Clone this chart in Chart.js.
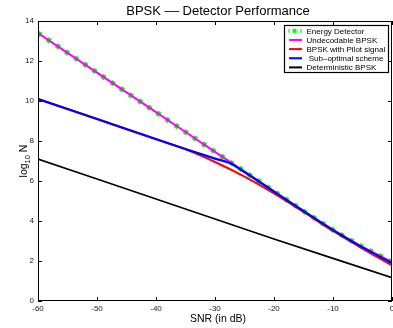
<!DOCTYPE html>
<html>
<head>
<meta charset="utf-8">
<script src="https://cdn.jsdelivr.net/npm/chart.js@4.4.1/dist/chart.umd.min.js"></script>
<style>
  html, body { margin: 0; padding: 0; background: #fff; }
  #wrap { width: 393px; height: 328px; position: relative; }
</style>
</head>
<body>
<div id="wrap"><canvas id="detChart"></canvas></div>
<script>
// Texts
const chartTitle = "BPSK –– Detector Performance";
const xTitle = "SNR (in dB)";
const yTitleMain = "log";
const yTitleSub = "10";
const yTitleTail = " N";

// Tick labels
const xTicks = [-60, -50, -40, -30, -20, -10, 0];
const yTicks = [0, 2, 4, 6, 8, 10, 12, 14];

// Series (SNR in dB, log10 N)
const snrEnergy = [-60, -55, -50, -45, -40, -35, -30, -25, -20, -15, -10, -5, 0];
const energyDetector = [13.4, 12.41, 11.42, 10.43, 9.44, 8.45, 7.46, 6.47, 5.48, 4.5, 3.55, 2.7, 1.95];
const undecodableBpsk = [13.4, 12.41, 11.42, 10.43, 9.44, 8.45, 7.46, 6.47, 5.48, 4.5, 3.55, 2.7, 1.95];

const snrPilot = [-60, -50, -40, -35, -30, -25, -20, -15, -10, -5, 0];
const pilotBpsk = [10.1, 9.1, 8.08, 7.58, 6.95, 6.22, 5.38, 4.45, 3.5, 2.62, 1.78];

const snrSubOpt = [-60, -50, -40, -35, -30, -27.5, -25, -20, -15, -10, -5, 0];
const subOptimal = [10.1, 9.1, 8.1, 7.6, 7.12, 6.9, 6.45, 5.47, 4.5, 3.55, 2.68, 1.9];

const snrDeterministic = [-60, -50, -40, -30, -20, -10, 0];
const deterministicBpsk = [7.1, 6.1, 5.1, 4.1, 3.1, 2.13, 1.17];

const FONT = "'Liberation Sans', Arial, Helvetica, sans-serif";

const toPoints = (xs, ys) => xs.map((x, i) => ({ x: x, y: ys[i] }));

/**
 * Matlab-like decorations: box, inward ticks, title, axis labels, legend
 */
const matlabFrame = {
  id: "matlabFrame",
  afterDatasetsDraw(chart) {
    const ctx = chart.ctx;
    const area = chart.chartArea;
    const xs = chart.scales.x;
    const ys = chart.scales.y;
    const tl = 4;

    ctx.save();
    ctx.strokeStyle = "#000";
    ctx.lineWidth = 1;

    // Box
    ctx.strokeRect(area.left + 0.5, area.top + 0.5, area.right - area.left - 1, area.bottom - area.top - 1);

    // Inward ticks
    ctx.beginPath();
    xTicks.forEach((v) => {
      const px = Math.round(xs.getPixelForValue(v)) + 0.5;
      ctx.moveTo(px, area.bottom);
      ctx.lineTo(px, area.bottom - tl);
      ctx.moveTo(px, area.top);
      ctx.lineTo(px, area.top + tl);
    });
    yTicks.forEach((v) => {
      const py = Math.round(ys.getPixelForValue(v)) + 0.5;
      ctx.moveTo(area.left, py);
      ctx.lineTo(area.left + tl, py);
      ctx.moveTo(area.right, py);
      ctx.lineTo(area.right - tl, py);
    });
    ctx.stroke();

    // Title
    const cx = (area.left + area.right) / 2;
    ctx.fillStyle = "#000";
    ctx.textAlign = "center";
    ctx.textBaseline = "alphabetic";
    ctx.font = "13px " + FONT;
    ctx.fillText(chartTitle, cx + 3, 14.5);

    // X label
    ctx.font = "10.5px " + FONT;
    ctx.fillText(xTitle, cx + 3, 321.5);

    // Y label, rotated, with subscript
    ctx.save();
    ctx.translate(26.5, (area.top + area.bottom) / 2);
    ctx.rotate(-Math.PI / 2);
    ctx.textAlign = "left";
    ctx.font = "10.5px " + FONT;
    const wMain = ctx.measureText(yTitleMain).width;
    const wTail = ctx.measureText(yTitleTail).width;
    ctx.font = "7.5px " + FONT;
    const wSub = ctx.measureText(yTitleSub).width;
    let x0 = -(wMain + wSub + wTail) / 2;
    ctx.font = "10.5px " + FONT;
    ctx.fillText(yTitleMain, x0, 0);
    ctx.font = "7.5px " + FONT;
    ctx.fillText(yTitleSub, x0 + wMain, 3);
    ctx.font = "10.5px " + FONT;
    ctx.fillText(yTitleTail, x0 + wMain + wSub, 0);
    ctx.restore();

    // Legend
    const lx = 284, ly = 25, lw = 104, lh = 47;
    ctx.fillStyle = "#fff";
    ctx.fillRect(lx, ly, lw, lh);
    ctx.strokeStyle = "#000";
    ctx.lineWidth = 1.2;
    ctx.strokeRect(lx + 0.5, ly + 0.5, lw, lh);

    ctx.font = "8px " + FONT;
    ctx.textAlign = "left";
    ctx.textBaseline = "middle";
    chart.data.datasets.forEach((ds, i) => {
      const y = 30.8 + i * 9.15;
      if (ds.borderDash && ds.borderDash.length) {
        ctx.fillStyle = ds.borderColor;
        ctx.fillRect(288.5, y - 2, 1.2, 4);
        ctx.fillRect(292.5, y - 2, 4, 4);
        ctx.fillRect(300.5, y - 2, 1.2, 4);
      } else {
        ctx.strokeStyle = ds.borderColor;
        ctx.lineWidth = 2;
        ctx.beginPath();
        ctx.moveTo(289, y);
        ctx.lineTo(302, y);
        ctx.stroke();
      }
      ctx.fillStyle = "#000";
      ctx.fillText(ds.label, 306.5, y + 0.5);
    });

    ctx.restore();
  },
};

const chart = new Chart(document.getElementById("detChart"), {
  type: "line",
  data: {
    datasets: [
      {
        label: "Energy Detector",
        data: toPoints(snrEnergy, energyDetector),
        borderColor: "#00ff00",
        borderWidth: 5,
        borderDash: [4, 7],
        borderCapStyle: "butt",
        pointRadius: 0,
        tension: 0,
        order: 5,
      },
      {
        label: "Undecodable BPSK",
        data: toPoints(snrEnergy, undecodableBpsk),
        borderColor: "#ff00ff",
        borderWidth: 2,
        pointRadius: 0,
        tension: 0,
        order: 4,
      },
      {
        label: "BPSK with Pilot signal",
        data: toPoints(snrPilot, pilotBpsk),
        borderColor: "#ff0000",
        borderWidth: 2,
        pointRadius: 0,
        tension: 0.3,
        order: 3,
      },
      {
        label: " Sub–optimal scheme",
        data: toPoints(snrSubOpt, subOptimal),
        borderColor: "#0000ff",
        borderWidth: 2.2,
        pointRadius: 0,
        tension: 0.2,
        order: 2,
      },
      {
        label: "Deterministic BPSK",
        data: toPoints(snrDeterministic, deterministicBpsk),
        borderColor: "#000000",
        borderWidth: 1.8,
        pointRadius: 0,
        tension: 0,
        order: 1,
      },
    ],
  },
  options: {
    animation: false,
    responsive: true,
    maintainAspectRatio: false,
    devicePixelRatio: 1,
    layout: { padding: { top: 21, left: 0, right: 1, bottom: 0 } },
    plugins: {
      legend: { display: false },
      title: { display: false },
      tooltip: { enabled: false },
    },
    scales: {
      x: {
        type: "linear",
        min: -60,
        max: 0,
        afterBuildTicks: (s) => { s.ticks = xTicks.map((v) => ({ value: v })); },
        afterFit: (s) => { s.height = 27; s.paddingLeft = 0; s.paddingRight = 0; },
        grid: { display: false, drawTicks: false },
        border: { display: false },
        ticks: {
          color: "#222",
          font: { size: 8, family: FONT },
          padding: 3,
          maxRotation: 0,
          autoSkip: false,
        },
      },
      y: {
        type: "linear",
        min: 0,
        max: 14,
        afterBuildTicks: (s) => { s.ticks = yTicks.map((v) => ({ value: v })); },
        afterFit: (s) => { s.width = 38; s.paddingTop = 0; s.paddingBottom = 0; },
        grid: { display: false, drawTicks: false },
        border: { display: false },
        ticks: {
          color: "#222",
          font: { size: 8, family: FONT },
          padding: 4,
          autoSkip: false,
        },
      },
    },
  },
  plugins: [matlabFrame],
});
</script>
</body>
</html>
